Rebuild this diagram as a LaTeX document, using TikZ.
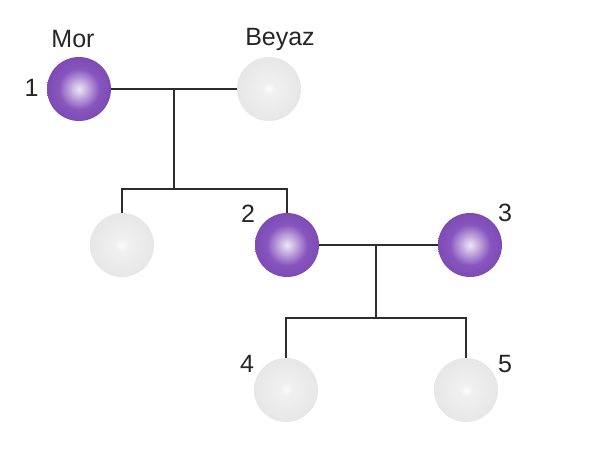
\documentclass[tikz,border=0pt]{standalone}
\usepackage{fontspec}
\setmainfont{Liberation Sans}
\usetikzlibrary{positioning, calc}
\definecolor{MorPurple}{RGB}{88,30,135}
\definecolor{MorLight}{RGB}{135,85,190}
\definecolor{BeyazGray}{RGB}{196,196,196}
\definecolor{LineGray}{RGB}{45,45,45}

\pgfdeclareradialshading{morshade}{\pgfpoint{0bp}{0bp}}{%
  color(0bp)=(white!85!MorLight); color(3bp)=(white!70!MorLight); color(16bp)=(MorLight);
  color(38bp)=(MorLight!55!MorPurple); color(50bp)=(MorPurple)}
\pgfdeclareradialshading{beyazshade}{\pgfpoint{0bp}{0bp}}{%
  color(0bp)=(white!95!BeyazGray); color(5bp)=(white!75!BeyazGray); color(30bp)=(white!55!BeyazGray);
  color(50bp)=(BeyazGray)}

\tikzset{
  ball/.style={circle, minimum size=64pt, inner sep=0pt},
  morball/.style={ball, shading=morshade},
  beyazball/.style={ball, shading=beyazshade},
  tag/.style={font=\fontsize{25}{30}\selectfont, text=black!85},
  link/.style={draw=LineGray, line width=1.3pt}
}

\begin{document}
\begin{tikzpicture}[x=1pt, y=-1pt]
\useasboundingbox (0,0) rectangle (603,464);

% bireyler
\node[morball] (m1) at (79,89) {};
\node[beyazball] (b1) at (269,89) {};
\node[beyazball] (c1) at (122,245) {};
\node[morball] (m2) at (287,245) {};
\node[morball] (m3) at (470,245) {};
\node[beyazball] (c4) at (286,390) {};
\node[beyazball] (c5) at (466,390) {};

% etiketler
\node[tag] (tmor) at (73,39) {Mor};
\node[tag] (tbeyaz) at (280,39) {Beyaz};
\node[tag] (t1) at (31.5,88) {1};
\node[tag] (t2) at (248,214) {2};
\node[tag] (t3) at (505,213) {3};
\node[tag] (t4) at (247,364) {4};
\node[tag] (t5) at (505,364) {5};

% baglantilar
\coordinate (j1) at ($(m1)!0.5!(b1)$);
\coordinate (s1) at (174,189);
\coordinate (j2) at (376,245);
\coordinate (s2) at (376,318);
\draw[link] (m1) -- (b1);
\draw[link] (j1) -- (s1);
\draw[link] (c1.north) |- (s1) -| (m2.north);
\draw[link] (m2) -- (m3);
\draw[link] (j2) -- (s2);
\draw[link] (c4.north) |- (s2) -| (c5.north);

\end{tikzpicture}
\end{document}
